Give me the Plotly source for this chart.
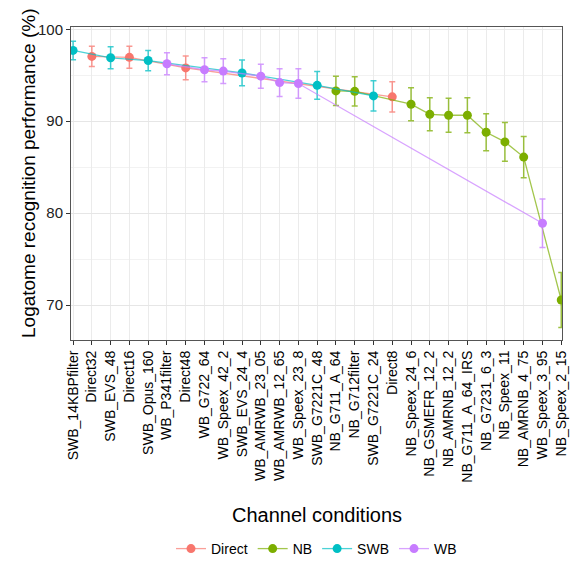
import plotly.graph_objects as go

categories = ["SWB_14KBPfilter", "Direct32", "SWB_EVS_48", "Direct16", "SWB_Opus_160",
              "WB_P341filter", "Direct48", "WB_G722_64", "WB_Speex_42_2", "SWB_EVS_24_4",
              "WB_AMRWB_23_05", "WB_AMRWB_12_65", "WB_Speex_23_8", "SWB_G7221C_48",
              "NB_G711_A_64", "NB_G712filter", "SWB_G7221C_24", "Direct8", "NB_Speex_24_6",
              "NB_GSMEFR_12_2", "NB_AMRNB_12_2", "NB_G711_A_64_IRS", "NB_G7231_6_3",
              "NB_Speex_11", "NB_AMRNB_4_75", "WB_Speex_3_95", "NB_Speex_2_15"]
groups = ["SWB", "Direct", "SWB", "Direct", "SWB", "WB", "Direct", "WB", "WB", "SWB",
          "WB", "WB", "WB", "SWB", "NB", "NB", "SWB", "Direct", "NB", "NB", "NB", "NB",
          "NB", "NB", "NB", "WB", "NB"]
performance = [97.7, 97.05, 96.9, 96.95, 96.6, 96.25, 95.8, 95.6, 95.45, 95.25,
               94.9, 94.2, 94.1, 93.9, 93.3, 93.25, 92.75, 92.65, 91.85, 90.75,
               90.65, 90.65, 88.8, 87.75, 86.1, 78.9, 70.55]
errors = [1.0, 1.1, 1.2, 1.2, 1.1, 1.2, 1.3, 1.3, 1.35, 1.4,
          1.3, 1.5, 1.6, 1.5, 1.6, 1.6, 1.65, 1.65, 1.8, 1.8,
          1.85, 1.9, 2.0, 2.1, 2.25, 2.65, 3.0]
group_names = ["Direct", "NB", "SWB", "WB"]
colors = {"Direct": (248, 118, 109), "NB": (124, 174, 0), "SWB": (0, 191, 196), "WB": (199, 124, 255)}

fig = go.Figure()
for g in group_names:
    idx = [i for i, gg in enumerate(groups) if gg == g]
    r, gr, b = colors[g]
    fig.add_trace(go.Scatter(
        x=[categories[i] for i in idx],
        y=[performance[i] for i in idx],
        error_y=dict(type="data", array=[errors[i] for i in idx], visible=True,
                     color=f"rgba({r},{gr},{b},0.75)", thickness=1.5, width=3),
        mode="lines+markers",
        name=g,
        line=dict(color=f"rgba({r},{gr},{b},0.7)", width=1.3),
        marker=dict(color=f"rgb({r},{gr},{b})", size=9),
        cliponaxis=True,
    ))

fig.update_layout(
    width=574, height=556,
    margin=dict(l=63, r=20, t=19, b=224, autoexpand=False),
    paper_bgcolor="white", plot_bgcolor="white",
    font=dict(family="Liberation Sans, Arial, sans-serif", color="black", size=15),
    showlegend=True,
    legend=dict(orientation="h", x=0.5, xanchor="center", xref="paper",
                y=15 / 556, yref="container", yanchor="middle",
                font=dict(size=14), itemwidth=30, tracegroupgap=0),
    xaxis=dict(type="category", categoryorder="array", categoryarray=categories,
               range=[-0.11, 26.04], tickangle=-90, tickfont=dict(size=14, color="black"),
               automargin=False,
               showgrid=True, gridcolor="#EBEBEB", gridwidth=1.2,
               showline=True, mirror=True, linecolor="#555555", linewidth=1,
               ticks="outside", ticklen=4, tickcolor="#333333", zeroline=False),
    yaxis=dict(range=[66.2, 100.25], tickvals=[70, 80, 90, 100],
               tickfont=dict(size=15, color="#222222"), automargin=False,
               showgrid=True, gridcolor="#E6E6E6", gridwidth=1.2,
               minor=dict(dtick=5, tick0=0, showgrid=True, gridcolor="#F2F2F2", gridwidth=0.8),
               showline=True, mirror=True, linecolor="#555555", linewidth=1,
               ticks="outside", ticklen=4, tickcolor="#333333", zeroline=False),
    annotations=[
        dict(text="Channel conditions", xref="paper", yref="paper", x=0.5, y=-0.56,
             xanchor="center", yanchor="middle", showarrow=False,
             font=dict(size=20, color="black")),
        dict(text="Logatome recognition performance (%)", xref="paper", yref="paper",
             x=-0.0876, y=0.0, xanchor="center", yanchor="bottom", textangle=-90,
             showarrow=False, font=dict(size=19, color="black")),
    ],
)

fig.write_html("out.html")
